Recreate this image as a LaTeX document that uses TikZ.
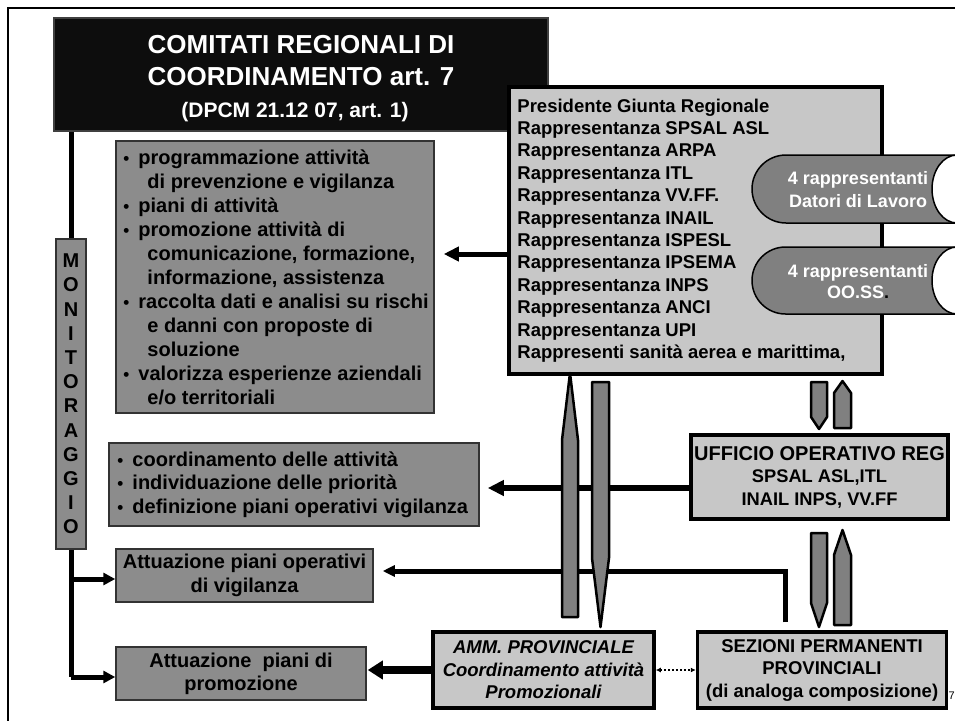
\documentclass[tikz,border=0pt]{standalone}
\usepackage{fontspec}
\setmainfont{Liberation Sans}
\usetikzlibrary{arrows.meta}
\definecolor{dbox}{RGB}{140,140,140}
\definecolor{lbox}{RGB}{199,199,199}
\definecolor{barr}{RGB}{128,128,128}
\definecolor{tbox}{RGB}{13,13,13}
\newcommand\fsz[2]{\fontsize{#1}{#2}\selectfont\bfseries}
\newcommand\bul{\makebox[15pt][l]{\fontsize{17}{17}\selectfont •}}
\begin{document}
\begin{tikzpicture}[x=1pt,y=-1pt,
  dk/.style={draw=black!80,line width=1.5,fill=dbox,inner sep=0,text=black},
  lb/.style={draw=black,line width=3.5,fill=lbox,inner sep=0,text=black},
  txt/.style={inner sep=0,align=left,anchor=west},
  barrow/.style={fill=barr,draw=black,line width=2.5,line join=round},
  pill/.style={fill=barr,draw=black,line width=1.5},
  fat/.style={line width=5,-{Triangle[length=15pt,width=14pt]}},
  thin/.style={line width=5,-{Triangle[length=12pt,width=12pt]}}]
\useasboundingbox (0,0) rectangle (955,720);
\clip (0,0) rectangle (955,720);
\fill[white] (0,0) rectangle (955,720);
% frame
\draw[line width=2] (8,730) -- (8,8) -- (965,8);

% title
\node[fill=tbox,draw=black!75,line width=1.5,minimum width=494,minimum height=113,inner sep=0] (title) at (301,74.5) {};
\node[text=white,align=center,font=\fsz{26}{32}] (t1) at (301,61) {COMITATI REGIONALI DI\\COORDINAMENTO art. 7};
\node[text=white,font=\fsz{21}{25}] (t2) at (295,112) {(DPCM 21.12 07, art. 1)};

% right list box
\node[lb,minimum width=373,minimum height=287] (rb) at (695.5,230.5) {};
\node[txt,font=\fsz{18.5}{22.4}] (rbt) at ([xshift=10pt]rb.west)
{Presidente Giunta Regionale\\
Rappresentanza SPSAL ASL\\
Rappresentanza ARPA\\
Rappresentanza ITL\\
Rappresentanza VV.FF.\\
Rappresentanza INAIL\\
Rappresentanza ISPESL\\
Rappresentanza IPSEMA\\
Rappresentanza INPS\\
Rappresentanza ANCI\\
Rappresentanza UPI\\
Rappresenti sanità aerea e marittima,};

% pills
\filldraw[pill] (786,155) -- (985,155) -- (985,223) -- (786,223) arc[start angle=90,end angle=270,radius=34] -- cycle;
\filldraw[fill=white,draw=black,line width=1.5] (957,189) ellipse[x radius=25,y radius=34];
\node[text=white,align=center,font=\fsz{18}{23}] (p1) at (858,190) {4 rappresentanti\\Datori di Lavoro};
\filldraw[pill] (785.5,247) -- (985,247) -- (985,314) -- (785.5,314) arc[start angle=90,end angle=270,radius=33.5] -- cycle;
\filldraw[fill=white,draw=black,line width=1.5] (957,280.5) ellipse[x radius=25,y radius=33.5];
\node[text=white,align=center,font=\fsz{18}{21}] (p2) at (858,281.5) {4 rappresentanti\\OO.SS\textcolor{black}{.}};

% left boxes
\node[dk,minimum width=318,minimum height=272] (b1) at (275,277) {};
\node[txt,font=\fsz{20}{24}] (b1t) at ([xshift=8pt]b1.west)
{\bul programmazione attività\\
\hspace*{24pt}di prevenzione e vigilanza\\
\bul piani di attività\\
\bul promozione attività di\\
\hspace*{24pt}comunicazione, formazione,\\
\hspace*{24pt}informazione, assistenza\\
\bul raccolta dati e analisi su rischi\\
\hspace*{24pt}e danni con proposte di\\
\hspace*{24pt}soluzione\\
\bul valorizza esperienze aziendali\\
\hspace*{24pt}e/o territoriali};

\node[dk,minimum width=370,minimum height=83] (b2) at (294,484.5) {};
\node[txt,font=\fsz{20}{23.5}] (b2t) at ([xshift=9pt]b2.west)
{\bul coordinamento delle attività\\
\bul individuazione delle priorità\\
\bul definizione piani operativi vigilanza};

\node[dk,minimum width=257,minimum height=53,align=center,font=\fsz{20}{24}] (b3) at (244.5,575.5)
{Attuazione piani operativi\\di vigilanza};

\node[dk,minimum width=250,minimum height=53,align=center,font=\fsz{20}{23}] (b4) at (241,673.5)
{Attuazione\ \ piani di\\promozione};

\node[dk,minimum width=30,minimum height=310,align=center,font=\fsz{20}{24.2}] (mon) at (71,394)
{M\\O\\N\\I\\T\\O\\R\\A\\G\\G\\I\\O};

% right lower boxes
\node[lb,minimum width=257,minimum height=84,align=center,font=\fsz{18.3}{22.5}] (uff) at (819.5,477)
{{\fsz{20}{24}UFFICIO OPERATIVO REG}\\SPSAL ASL,ITL\\INAIL INPS, VV.FF};

\node[lb,minimum width=249,minimum height=76,align=center,font=\fsz{18.5}{22.5}] (sez) at (822,670)
{SEZIONI PERMANENTI\\PROVINCIALI\\(di analoga composizione)};

\node[lb,minimum width=221,minimum height=76,align=center,font=\fsz{18.5}{22.5}\itshape] (amm) at (543.5,670)
{AMM. PROVINCIALE\\Coordinamento attività\\Promozionali};

\node[anchor=west,inner sep=0,font=\fontsize{11}{11}\selectfont] (pg) at (948.5,696) {7};

% connectors
\draw[line width=5] (title.south -| 71,0) -- (mon.north);
\draw[line width=5] (mon.south) -- (71,677);
\draw[thin] (71,579) -- (b3.west |- 0,579);
\draw[thin] (71,677) -- (b4.west |- 0,677);
\draw[fat] (rb.west |- 0,254) -- ([xshift=9pt]b1.east |- 0,254);
\draw[line width=6,-{Triangle[length=16pt,width=15pt]}] (uff.west |- 0,488) -- ([xshift=8pt]b2.east |- 0,488);
\draw[line width=5,-{Triangle[length=12pt,width=11pt]},line join=miter] ([yshift=8pt]sez.north -| 785,0) -- (785,571) -- ([xshift=9pt]b3.east |- 0,571);
\draw[line width=8,-{Triangle[length=15pt,width=18pt]}] (amm.west) -- ([xshift=1pt]b4.east |- amm.west);
\draw[line width=2,dotted,{Latex[length=5pt,width=5pt]}-{Latex[length=5pt,width=5pt]}] (amm.east) -- (sez.west);

% block arrows
\filldraw[barrow] (562,617) -- (562,440) -- (570,373) -- (578,440) -- (578,617) -- cycle;
\filldraw[barrow] (592,382) -- (609,382) -- (609,558) -- (600.5,627) -- (592,558) -- cycle;
\filldraw[barrow] (811,382) -- (827,382) -- (827,417) -- (819,429) -- (811,417) -- cycle;
\filldraw[barrow] (834,428) -- (834,393) -- (842.5,381) -- (851,393) -- (851,428) -- cycle;
\filldraw[barrow] (811,533) -- (827,533) -- (827,603) -- (819,627) -- (811,603) -- cycle;
\filldraw[barrow] (834,625) -- (834,555) -- (842.5,530) -- (851,555) -- (851,625) -- cycle;
\end{tikzpicture}
\end{document}
